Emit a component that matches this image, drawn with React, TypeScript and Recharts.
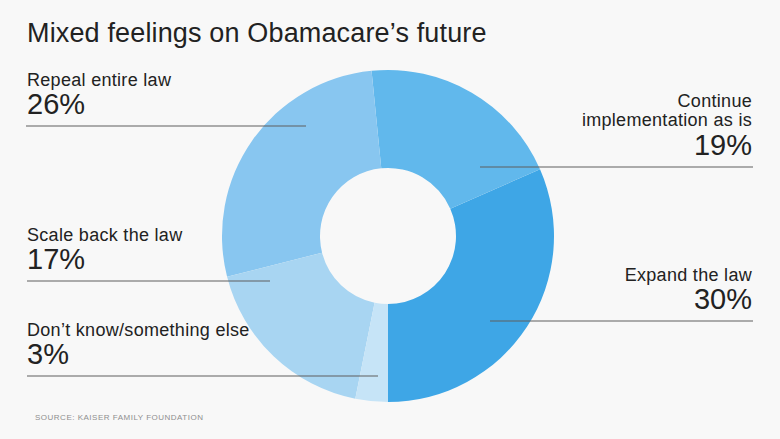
import { PieChart, Pie, Cell } from "recharts"

const categories = [
  "Expand the law",
  "Continue implementation as is",
  "Repeal entire law",
  "Scale back the law",
  "Don’t know/something else",
]
const values = [30, 19, 26, 17, 3]
const colors = ["#3ea6e6", "#61b8ec", "#88c6f0", "#a8d5f2", "#c6e4f7"]

// label blocks: text lines, anchor side, line extent
const labelLayout = [
  { lines: ["Expand the law"], x: 752, top: 281, anchor: "end", lineX: [490, 753], lineY: 321 },
  { lines: ["Continue", "implementation as is"], x: 752, top: 107, anchor: "end", lineX: [480, 753], lineY: 167 },
  { lines: ["Repeal entire law"], x: 27, top: 86, anchor: "start", lineX: [26, 306], lineY: 126 },
  { lines: ["Scale back the law"], x: 27, top: 241, anchor: "start", lineX: [27, 270], lineY: 281 },
  { lines: ["Don’t know/something else"], x: 27, top: 336, anchor: "start", lineX: [27, 378], lineY: 376 },
]

const W = 780
const H = 439
const FONT = "'Liberation Sans', Arial, sans-serif"

const data = categories.map((name, i) => ({ name, value: values[i] }))

export default function App() {
  return (
    <div style={{ position: "absolute", left: 0, top: 0, width: W, height: H, background: "#f8f8f8", fontFamily: FONT }}>
      <PieChart width={W} height={H} margin={{ top: 0, right: 0, bottom: 0, left: 0 }}>
        <Pie
          data={data}
          dataKey="value"
          nameKey="name"
          cx={388}
          cy={236}
          innerRadius={68}
          outerRadius={166}
          startAngle={-90}
          endAngle={270}
          stroke="none"
          isAnimationActive={false}
        >
          {data.map((_, i) => (
            <Cell key={i} fill={colors[i]} />
          ))}
        </Pie>
      </PieChart>
      <svg width={W} height={H} style={{ position: "absolute", left: 0, top: 0, pointerEvents: "none" }}>
        <text x={27} y={42} fontSize={27} letterSpacing={0.15} fill="#222" fontFamily={FONT}>
          Mixed feelings on Obamacare’s future
        </text>
        {labelLayout.map((l, i) => (
          <g key={i}>
            {l.lines.map((t, j) => (
              <text key={j} x={l.x} y={l.top + j * 19} fontSize={18} letterSpacing={0.3} fill="#222" textAnchor={l.anchor as any} fontFamily={FONT}>
                {t}
              </text>
            ))}
            <text x={l.x} y={l.lineY - 12} fontSize={29} fill="#222" textAnchor={l.anchor as any} fontFamily={FONT} fontWeight={300}>
              {values[i]}%
            </text>
            <line x1={l.lineX[0]} x2={l.lineX[1]} y1={l.lineY} y2={l.lineY} stroke="#5e5e5e" strokeWidth={1.2} />
          </g>
        ))}
        <text x={35} y={420} fontSize={8} fill="#8f8f8f" letterSpacing={0.5} fontFamily={FONT}>
          SOURCE: KAISER FAMILY FOUNDATION
        </text>
      </svg>
    </div>
  )
}
